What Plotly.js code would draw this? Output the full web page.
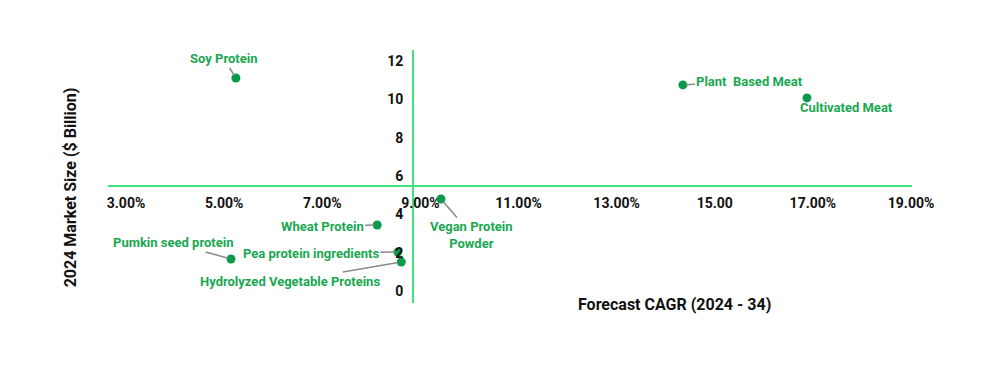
<!DOCTYPE html>
<html>
<head>
<meta charset="utf-8">
<script src="https://cdn.plot.ly/plotly-3.0.1.min.js"></script>
<style>html,body{margin:0;padding:0;background:#fff;}#chart{width:984px;height:369px;}</style>
</head>
<body>
<div id="chart"></div>
<script>
// Data
var products = ["Soy Protein", "Plant  Based Meat", "Cultivated Meat", "Vegan Protein<br>Powder", "Wheat Protein", "Pumkin seed protein", "Pea protein ingredients", "Hydrolyzed Vegetable Proteins"];
var cagr = [5.24, 14.35, 16.88, 9.42, 8.12, 5.14, 8.54, 8.61];
var marketSize = [11.11, 10.75, 10.07, 4.80, 3.44, 1.67, 2.03, 1.51];
var xTickVals = [3, 5, 7, 9, 11, 13, 15, 17, 19];
var xTickText = ["3.00%", "5.00%", "7.00%", "9.00%", "11.00%", "13.00%", "15.00", "17.00%", "19.00%"];
var yTickVals = [0, 2, 4, 6, 8, 10, 12];
var yTickText = ["0", "2", "4", "6", "8", "10", "12"];
var xCross = 8.85;   // where the vertical axis crosses
var yCross = 5.48;   // where the horizontal axis crosses

// label offsets (pixels) for callouts
var labelOffsets = [[-12, -19], [67, -3], [39, 10], [31, 36], [-55, 1], [-58, -16], [-87, 1], [-111, 19]];

var xRange = [2.633, 19.02];
var yRange = [-0.626, 12.57];

var green = "#19a851";
var axisGreen = "#3de381";

var trace = {
  x: cagr,
  y: marketSize,
  mode: "markers",
  type: "scatter",
  marker: {color: "#0b9a4a", size: 9},
  hoverinfo: "skip",
  showlegend: false
};

var annotations = products.map(function (p, i) {
  return {
    x: cagr[i], y: marketSize[i], xref: "x", yref: "y",
    text: "<b>" + p + "</b>",
    showarrow: true, arrowhead: 0, arrowwidth: 1.5, arrowcolor: "#8a8a8a",
    ax: labelOffsets[i][0], ay: labelOffsets[i][1],
    standoff: 3, startstandoff: 0,
    font: {family: "Roboto, sans-serif", size: 13, color: green},
    align: "center"
  };
});

annotations.push({
  xref: "paper", yref: "paper", x: 0.705, y: -0.004, xanchor: "center", yanchor: "middle",
  text: "<b>Forecast CAGR (2024 - 34)</b>", showarrow: false,
  font: {family: "Roboto, sans-serif", size: 16, color: "#111"}
});
annotations.push({
  xref: "paper", yref: "paper", x: -0.047, y: 0.458, xanchor: "center", yanchor: "middle",
  text: "<b>2024 Market Size ($ Billion)</b>", showarrow: false, textangle: -90,
  font: {family: "Roboto, sans-serif", size: 16, color: "#111"}
});

var xPos = (xCross - xRange[0]) / (xRange[1] - xRange[0]);
var yPos = (yCross - yRange[0]) / (yRange[1] - yRange[0]);

var layout = {
  width: 984, height: 369,
  margin: {l: 108, r: 72, t: 50, b: 66},
  paper_bgcolor: "#fff", plot_bgcolor: "#fff",
  font: {family: "Roboto, sans-serif"},
  xaxis: {
    range: xRange, anchor: "free", position: yPos,
    showgrid: false, zeroline: false,
    showline: true, linecolor: axisGreen, linewidth: 2,
    tickvals: xTickVals, ticktext: xTickText, ticks: "",
    tickfont: {family: "Roboto, sans-serif", size: 14, color: "#111", weight: "bold"},
    ticklabelstandoff: 4
  },
  yaxis: {
    range: yRange, anchor: "free", position: xPos,
    showgrid: false, zeroline: false,
    showline: true, linecolor: axisGreen, linewidth: 2,
    tickvals: yTickVals, ticktext: yTickText, ticks: "",
    tickfont: {family: "Roboto, sans-serif", size: 14, color: "#111", weight: "bold"},
    ticklabelstandoff: 6
  },
  annotations: annotations
};

Plotly.newPlot("chart", [trace], layout, {displayModeBar: false, staticPlot: true});
</script>
</body>
</html>
